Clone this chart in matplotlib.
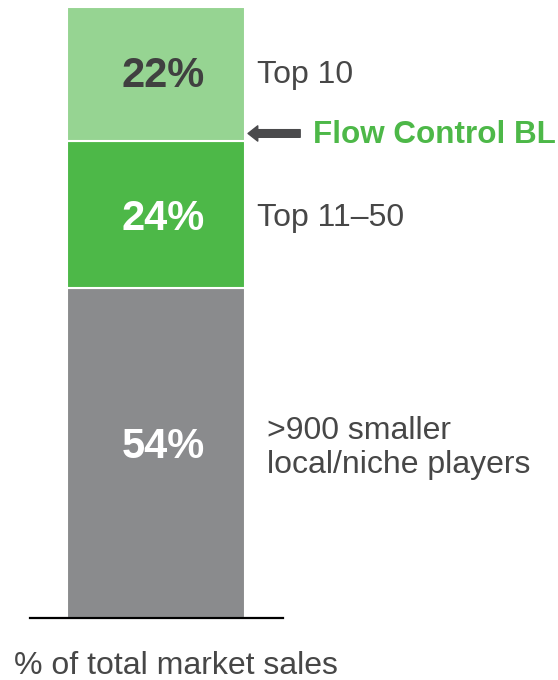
import matplotlib
matplotlib.use("Agg")
import matplotlib.pyplot as plt

plt.rcParams['font.family'] = ['Liberation Sans', 'DejaVu Sans']

# data
segments = ["Top 10", "Top 11–50", ">900 smaller\nlocal/niche players"]
shares = [22, 24, 54]
colors = ["#96D492", "#4DB848", "#8A8B8D"]
value_colors = ["#404040", "white", "white"]
highlight = "Flow Control BL"
xlabel = "% of total market sales"

fig = plt.figure(figsize=(5.58, 6.80), dpi=100)
ax = fig.add_axes([0, 62 / 680, 1, 611 / 680])
ax.set_xlim(-156 / 178, (558 - 156) / 178)
ax.set_ylim(0, 100)
ax.axis("off")

# stack from bottom: last item sits lowest
bottom = 0
for name, val, col, vcol in zip(segments[::-1], shares[::-1], colors[::-1], value_colors[::-1]):
    ax.bar(0, val, width=1, bottom=bottom, color=col, edgecolor="white", linewidth=1.5)
    ly = bottom + val / 2
    if bottom == 0:
        ly += 1.8  # bottom labels sit a bit above the middle
    elif bottom + val == 100:
        ly += 0.4
    ax.text(0.04, ly, f"{val}%", ha="center", va="center_baseline",
            fontsize=30, fontweight="bold", color=vcol)
    lx = 0.624 if "\n" in name else 0.57
    ax.text(lx, ly, name, ha="left", va="center_baseline", fontsize=23,
            color="#474747", linespacing=1.2)
    bottom += val

# arrow pointing to the Top 10 / Top 11-50 boundary
ay = shares[1] + shares[2] + 1.3
ax.annotate("", xy=(0.517, ay), xytext=(0.81, ay),
            arrowprops=dict(arrowstyle="simple,head_width=1.1,head_length=0.7,tail_width=0.55",
                            color="#4A4A4C", shrinkA=0, shrinkB=0))
ax.text(0.882, ay + 0.3, highlight, ha="left", va="center_baseline", fontsize=22.6,
        fontweight="bold", color="#4DB848")

ax.axhline(0, xmin=30 / 558, xmax=283 / 558, color="black", linewidth=1.6, clip_on=False)

fig.text(14 / 558, 1 - 662 / 680, xlabel, ha="left", va="center_baseline", fontsize=23,
         color="#474747")

fig.savefig("out.png", dpi=100)
